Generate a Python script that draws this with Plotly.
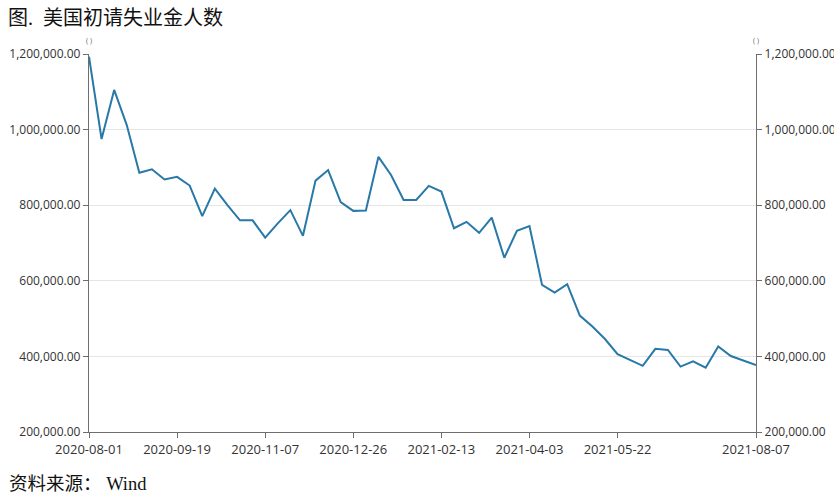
import plotly.graph_objects as go

dates = [
    "2020-08-01", "2020-08-08", "2020-08-15", "2020-08-22", "2020-08-29", "2020-09-05",
    "2020-09-12", "2020-09-19", "2020-09-26", "2020-10-03", "2020-10-10", "2020-10-17",
    "2020-10-24", "2020-10-31", "2020-11-07", "2020-11-14", "2020-11-21", "2020-11-28",
    "2020-12-05", "2020-12-12", "2020-12-19", "2020-12-26", "2021-01-02", "2021-01-09",
    "2021-01-16", "2021-01-23", "2021-01-30", "2021-02-06", "2021-02-13", "2021-02-20",
    "2021-02-27", "2021-03-06", "2021-03-13", "2021-03-20", "2021-03-27", "2021-04-03",
    "2021-04-10", "2021-04-17", "2021-04-24", "2021-05-01", "2021-05-08", "2021-05-15",
    "2021-05-22", "2021-05-29", "2021-06-05", "2021-06-12", "2021-06-19", "2021-06-26",
    "2021-07-03", "2021-07-10", "2021-07-17", "2021-07-24", "2021-07-31", "2021-08-07",
]

claims = [
    1193000, 975000, 1105000, 1012000, 886000, 895000,
    868000, 875000, 852000, 771000, 844000, 800000,
    760000, 760000, 714000, 752000, 787000, 719000,
    865000, 893000, 808000, 785000, 786000, 928000,
    880000, 814000, 814000, 851000, 836000, 739000,
    756000, 727000, 767000, 661000, 732000, 745000,
    589000, 569000, 591000, 508000, 479000, 446000,
    406000, 390000, 375000, 420000, 417000, 373000,
    387000, 370000, 426000, 401000, 389000, 377000,
]

x_tick_labels = ["2020-08-01", "2020-09-19", "2020-11-07", "2020-12-26",
                 "2021-02-13", "2021-04-03", "2021-05-22", "2021-08-07"]

y_ticks = [200000, 400000, 600000, 800000, 1000000, 1200000]

line_color = "#2878a8"
axis_color = "#6e6e6e"
tick_font = dict(family="Open Sans, Noto Sans, sans-serif", size=12, color="#333333")

fig = go.Figure()
fig.add_trace(go.Scatter(
    x=dates, y=claims, mode="lines",
    line=dict(color=line_color, width=2),
    showlegend=False, yaxis="y",
))
fig.add_trace(go.Scatter(
    x=dates, y=claims, mode="lines",
    line=dict(color="rgba(0,0,0,0)", width=0),
    showlegend=False, hoverinfo="skip", yaxis="y2",
))

fig.update_layout(
    width=834, height=503,
    margin=dict(l=89, r=78, t=54, b=71, autoexpand=False),
    paper_bgcolor="white", plot_bgcolor="white",
    xaxis=dict(
        type="category",
        range=[0, len(dates) - 1],
        tickmode="array",
        tickvals=x_tick_labels,
        ticktext=x_tick_labels,
        showgrid=False,
        showline=True, linecolor=axis_color, linewidth=1.3,
        ticks="outside", ticklen=5, tickcolor=axis_color,
        tickfont=dict(family="Open Sans, Noto Sans, sans-serif", size=13, color="#333333"),
        zeroline=False, automargin=False,
    ),
    yaxis=dict(
        range=[200000, 1200000],
        tickvals=y_ticks,
        tickformat=",.2f",
        showgrid=True, gridcolor="#e6e6e6", gridwidth=1.3,
        showline=True, linecolor=axis_color, linewidth=1.3,
        ticks="outside", ticklen=5, tickcolor=axis_color,
        tickfont=tick_font,
        zeroline=False, automargin=False,
    ),
    yaxis2=dict(
        range=[200000, 1200000],
        tickvals=y_ticks,
        tickformat=",.2f",
        overlaying="y", side="right",
        showgrid=False,
        showline=True, linecolor=axis_color, linewidth=1.3,
        ticks="outside", ticklen=5, tickcolor=axis_color,
        tickfont=tick_font,
        zeroline=False, automargin=False,
    ),
    annotations=[
        dict(text="图.\u00a0\u00a0美国初请失业金人数", xref="paper", yref="paper",
             x=-83/667, y=1 + (54 - 18) / 378, xanchor="left", yanchor="middle",
             showarrow=False,
             font=dict(family="Liberation Serif, Noto Sans CJK SC, serif", size=20, color="#111111")),
        dict(text="资料来源：\u00a0Wind", xref="paper", yref="paper",
             x=-82/667, y=-(484 - 432) / 378, xanchor="left", yanchor="middle",
             showarrow=False,
             font=dict(family="Liberation Serif, Noto Sans CJK SC, serif", size=18.5, color="#111111")),
        dict(text="( )", xref="paper", yref="paper",
             x=0, y=1 + (54 - 40) / 378, xanchor="center", yanchor="middle",
             showarrow=False, font=dict(size=7, color="#666666")),
        dict(text="( )", xref="paper", yref="paper",
             x=1, y=1 + (54 - 40) / 378, xanchor="center", yanchor="middle",
             showarrow=False, font=dict(size=7, color="#666666")),
    ],
)

fig.write_html(
    "out.html",
    config={"displayModeBar": False},
    post_script="document.body.style.margin='0';document.body.style.overflow='hidden';",
)
